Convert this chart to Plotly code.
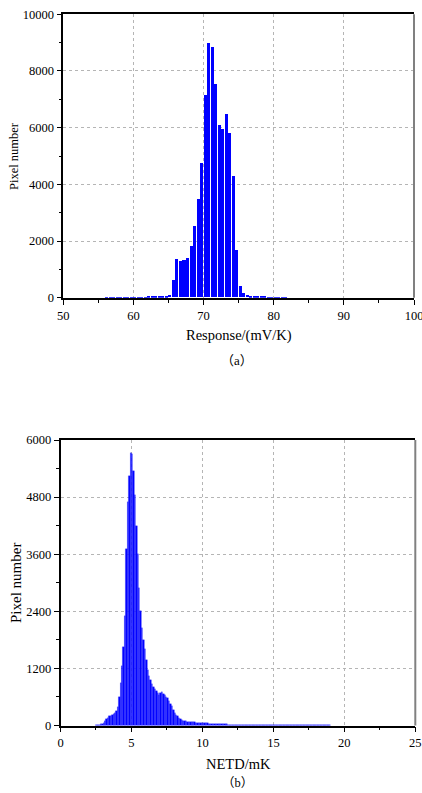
import numpy as np
import plotly.graph_objects as go

# ---------------- data: (a) Response histogram (bin width 0.5 mV/K) ----------------
resp_bin_start = 55.0
resp_bin_width = 0.5
resp_counts = [0, 0, 2, 5, 3, 2, 5, 4, 6, 5,
               8, 10, 12, 10, 15, 18, 20, 25, 30, 40,
               100, 600, 1360, 1280, 1320, 1400, 1800, 2520, 3480, 4750,
               7150, 8990, 8850, 7530, 6100, 5950, 6470, 5800, 4300, 1680,
               420, 150, 80, 40, 30, 25, 20, 15, 12, 10,
               8, 6, 5, 3]
resp_centers = resp_bin_start + resp_bin_width * (np.arange(len(resp_counts)) + 0.5)

# ---------------- data: (b) NETD histogram (bin width 0.1 mK) ----------------
netd_bin_start = 2.5
netd_bin_width = 0.1
netd_counts = [5, 10, 15, 25, 40, 60, 90, 130, 160, 190,
               210, 230, 250, 270, 300, 380, 600, 900, 1250, 1650,
               2300, 3700, 4700, 5250, 5720, 5700, 5350, 4850, 4200, 3600,
               2900, 2400, 2050, 1800, 1600, 1380, 1170, 1030, 960, 870,
               800, 760, 720, 680, 650, 680, 710, 670, 640, 600,
               570, 520, 460, 400, 330, 270, 220, 190, 160, 130,
               115, 105, 95, 88, 80, 75, 72, 70, 68, 65,
               62, 60, 58, 56, 54, 50, 48, 45, 43, 40,
               38, 36, 34, 32, 30, 29, 28, 27, 26, 25,
               24, 23, 22, 21, 20, 19, 18, 17, 16, 15,
               15, 14, 13, 13, 12, 11, 11, 10, 10, 9,
               9, 8, 8, 7, 7, 7, 6, 6, 6, 5,
               5, 5, 5, 4, 4, 4, 4, 4, 3, 3,
               3, 3, 3, 3, 3, 2, 2, 2, 2, 2,
               2, 2, 2, 2, 2, 2, 2, 2, 1, 1,
               1, 1, 1, 1, 1, 1, 1, 1, 1, 1,
               1, 1, 1, 1, 1]
netd_centers = netd_bin_start + netd_bin_width * (np.arange(len(netd_counts)) + 0.5)

# ---------------- axis settings ----------------
resp_xticks = [50, 60, 70, 80, 90, 100]
resp_yticks = [0, 2000, 4000, 6000, 8000, 10000]
netd_xticks = [0, 5, 10, 15, 20, 25]
netd_yticks = [0, 1200, 2400, 3600, 4800, 6000]

W, H = 422, 793
SERIF = "Liberation Serif, Times New Roman, serif"
CJK = "Noto Sans CJK SC"
BLUE = "#0000ff"


def px_x(p):
    return max(0.0, min(1.0, p / W))


def px_y(p):
    return max(0.0, min(1.0, 1 - p / H))


fig = go.Figure()
fig.add_trace(go.Bar(x=resp_centers, y=resp_counts, width=resp_bin_width * 0.86,
                     marker=dict(color=BLUE, line=dict(width=0)),
                     xaxis="x", yaxis="y", showlegend=False))
fig.add_trace(go.Bar(x=netd_centers, y=netd_counts, width=netd_bin_width,
                     marker=dict(color=BLUE, line=dict(width=0.3, color="#3a3aff")),
                     xaxis="x2", yaxis="y2", showlegend=False))

axis_common = dict(
    showline=True, linecolor="black", linewidth=1.6,
    ticks="outside", ticklen=5, tickwidth=1.2, tickcolor="black",
    showgrid=True, gridcolor="#b5b5b5", griddash="dot", gridwidth=1,
    zeroline=False, tickformat="d", ticklabeloverflow="allow", automargin=False,
    tickfont=dict(family=SERIF, size=12.5, color="black"),
)

fig.update_layout(
    width=W, height=H, margin=dict(l=0, r=0, t=0, b=0, autoexpand=False),
    paper_bgcolor="white", plot_bgcolor="white", bargap=0,
    xaxis=dict(**axis_common, range=[50, 100], tickvals=resp_xticks,
               domain=[px_x(63.3), px_x(414)], anchor="y", mirror=True,
               minor=dict(dtick=5, ticks="outside", ticklen=3, tickcolor="black", showgrid=False)),
    yaxis=dict(**axis_common, range=[0, 10000], tickvals=resp_yticks,
               domain=[px_y(297.7), px_y(14.3)], anchor="x",
               minor=dict(dtick=1000, ticks="outside", ticklen=3, tickcolor="black", showgrid=False)),
    xaxis2=dict(**axis_common, range=[0, 25], tickvals=netd_xticks,
                domain=[px_x(60.5), px_x(415.3)], anchor="y2", mirror=True,
                minor=dict(dtick=2.5, ticks="outside", ticklen=3, tickcolor="black", showgrid=False)),
    yaxis2=dict(**axis_common, range=[0, 6000], tickvals=netd_yticks,
                domain=[px_y(725.5), px_y(440)], anchor="x2",
                minor=dict(dtick=600, ticks="outside", ticklen=3, tickcolor="black", showgrid=False)),
)
# grey right-hand frame line
for xr, yr in (("x domain", "y domain"), ("x2 domain", "y2 domain")):
    fig.add_shape(type="line", xref=xr, yref=yr, x0=1, x1=1, y0=0, y1=1,
                  line=dict(color="#808080", width=2))


def cjk(s):
    return f"<span style=\"font-family:'{CJK}'\">{s}</span>"


ann = [
    dict(text="Response/(mV/K)", x=px_x(238.5), y=px_y(336), size=14.5),
    dict(text=cjk("（") + "a" + cjk("）"), x=px_x(237), y=px_y(359), size=13),
    dict(text="NETD/mK", x=px_x(238), y=px_y(764), size=14.5),
    dict(text=cjk("（") + "b" + cjk("）"), x=px_x(237), y=px_y(781), size=12.5),
]
for a in ann:
    fig.add_annotation(text=a["text"], x=a["x"], y=a["y"], xref="paper", yref="paper",
                       showarrow=False, xanchor="center", yanchor="middle",
                       font=dict(family=SERIF, size=a["size"], color="black"))
fig.add_annotation(text="Pixel number", x=px_x(14), y=px_y(156), xref="paper", yref="paper",
                   showarrow=False, textangle=-90, xanchor="center", yanchor="middle",
                   font=dict(family=SERIF, size=12.5, color="black"))
fig.add_annotation(text="Pixel number", x=px_x(16), y=px_y(583), xref="paper", yref="paper",
                   showarrow=False, textangle=-90, xanchor="center", yanchor="middle",
                   font=dict(family=SERIF, size=15, color="black"))

fig.write_html("out.html")
